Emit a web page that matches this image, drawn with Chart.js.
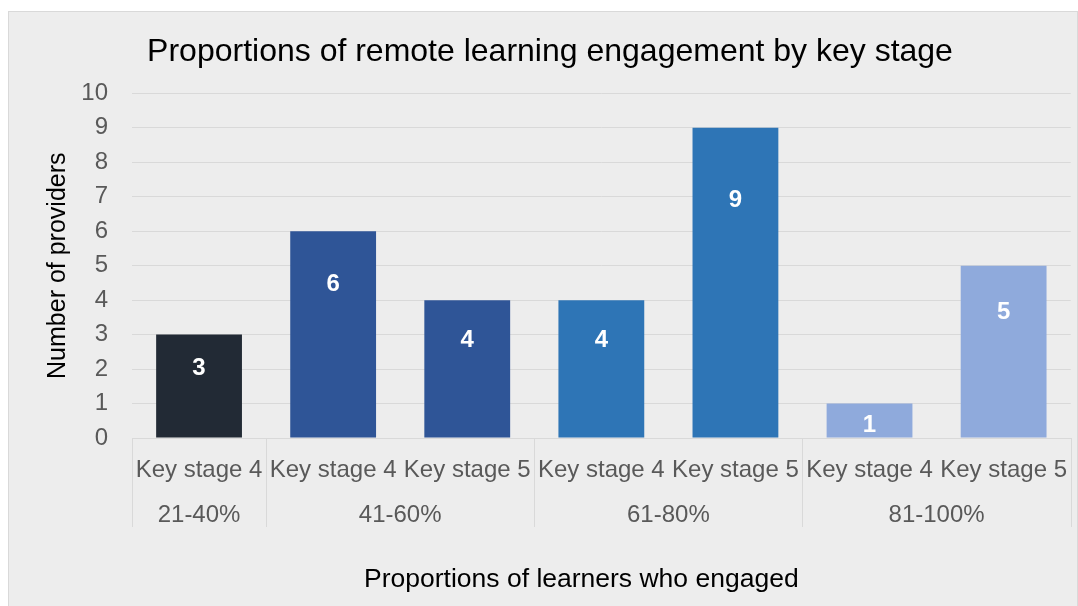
<!DOCTYPE html>
<html>
<head>
<meta charset="utf-8">
<script src="https://cdn.jsdelivr.net/npm/chart.js@4/dist/chart.umd.min.js"></script>
<style>
  html, body { margin: 0; padding: 0; background: #ffffff; overflow: hidden; }
  #caja {
    position: absolute; left: 8px; top: 11px;
    width: 1068px; height: 600px;
    background: #ededed; border: 1px solid #d9d9d9;
  }
  canvas { display: block; }
</style>
</head>
<body>
<div id="caja"><canvas id="grafico" width="1068" height="594"></canvas></div>
<script>
const etapas = ['Key stage 4', 'Key stage 4', 'Key stage 5', 'Key stage 4', 'Key stage 5', 'Key stage 4', 'Key stage 5'];
const proveedores = [3, 6, 4, 4, 9, 1, 5];
const grupos = ['21-40%', '41-60%', '61-80%', '81-100%'];
const tamGrupos = [1, 2, 2, 2];
const marcasY = [0, 1, 2, 3, 4, 5, 6, 7, 8, 9, 10];

const colores = ['#222a35', '#2f5597', '#2f5597', '#2e75b6', '#2e75b6', '#8faadc', '#8faadc'];
const fuente = "'Liberation Sans', Arial, sans-serif";

// etiquetas blancas dentro de cada barra
const etiquetasBarras = {
  id: 'etiquetasBarras',
  afterDatasetsDraw(chart) {
    const { ctx } = chart;
    const y = chart.scales.y;
    ctx.save();
    ctx.fillStyle = '#ffffff';
    ctx.font = 'bold 24px ' + fuente;
    ctx.textAlign = 'center';
    ctx.textBaseline = 'middle';
    chart.getDatasetMeta(0).data.forEach((barra, i) => {
      const v = proveedores[i];
      ctx.fillText(String(v), barra.x, y.getPixelForValue(v * 0.815 - 0.435));
    });
    ctx.restore();
  }
};

// segundo nivel del eje x: rangos, separadores y titulo del eje
const ejeGrupos = {
  id: 'ejeGrupos',
  afterDraw(chart) {
    const { ctx, chartArea } = chart;
    const x = chart.scales.x;
    const paso = x.getPixelForValue(1) - x.getPixelForValue(0);
    const abajo = chartArea.bottom + 89;
    ctx.save();
    ctx.strokeStyle = '#d9d9d9';
    ctx.lineWidth = 1;
    ctx.fillStyle = '#595959';
    ctx.font = '24px ' + fuente;
    ctx.textAlign = 'center';
    ctx.textBaseline = 'middle';
    let inicio = 0;
    const linea = (px) => {
      ctx.beginPath();
      ctx.moveTo(Math.round(px) + 0.5, chartArea.bottom);
      ctx.lineTo(Math.round(px) + 0.5, abajo);
      ctx.stroke();
    };
    linea(x.getPixelForValue(0) - paso / 2);
    grupos.forEach((g, k) => {
      const fin = inicio + tamGrupos[k] - 1;
      const izq = x.getPixelForValue(inicio) - paso / 2;
      const der = x.getPixelForValue(fin) + paso / 2;
      linea(der);
      ctx.fillText(g, (izq + der) / 2, chartArea.bottom + 77);
      inicio = fin + 1;
    });
    ctx.fillStyle = '#000000';
    ctx.font = '26.5px ' + fuente;
    ctx.fillText('Proportions of learners who engaged', (chartArea.left + chartArea.right) / 2 - 20, chartArea.bottom + 142);
    ctx.restore();
  }
};

new Chart(document.getElementById('grafico'), {
  type: 'bar',
  data: {
    labels: etapas,
    datasets: [{
      label: 'Number of providers',
      data: proveedores,
      backgroundColor: colores,
      barPercentage: 0.64,
      categoryPercentage: 1
    }]
  },
  options: {
    responsive: false,
    animation: false,
    layout: { padding: { left: 14, right: 0, top: 0, bottom: 0 } },
    plugins: {
      legend: { display: false },
      tooltip: { enabled: false },
      title: {
        display: true,
        text: 'Proportions of remote learning engagement by key stage',
        color: '#000000',
        font: { size: 32, family: fuente, weight: 'normal' },
        padding: { top: 21, bottom: 22 }
      }
    },
    scales: {
      x: {
        grid: { display: false },
        border: { display: true, color: '#d9d9d9' },
        ticks: {
          color: '#595959',
          font: { size: 24, family: fuente },
          padding: 10,
          maxRotation: 0,
          autoSkip: false
        },
        afterFit(scale) { scale.height = 168; }
      },
      y: {
        min: 0,
        max: 10,
        afterBuildTicks(scale) { scale.ticks = marcasY.map((v) => ({ value: v })); },
        grid: { color: '#d9d9d9', drawTicks: false },
        border: { display: false },
        ticks: {
          color: '#595959',
          font: { size: 24, family: fuente },
          padding: 24
        },
        title: {
          display: true,
          text: 'Number of providers',
          color: '#000000',
          font: { size: 25, family: fuente },
          padding: { top: 20, bottom: 0 }
        },
        afterFit(scale) { scale.width = 109; }
      }
    }
  },
  plugins: [etiquetasBarras, ejeGrupos]
});
</script>
</body>
</html>
